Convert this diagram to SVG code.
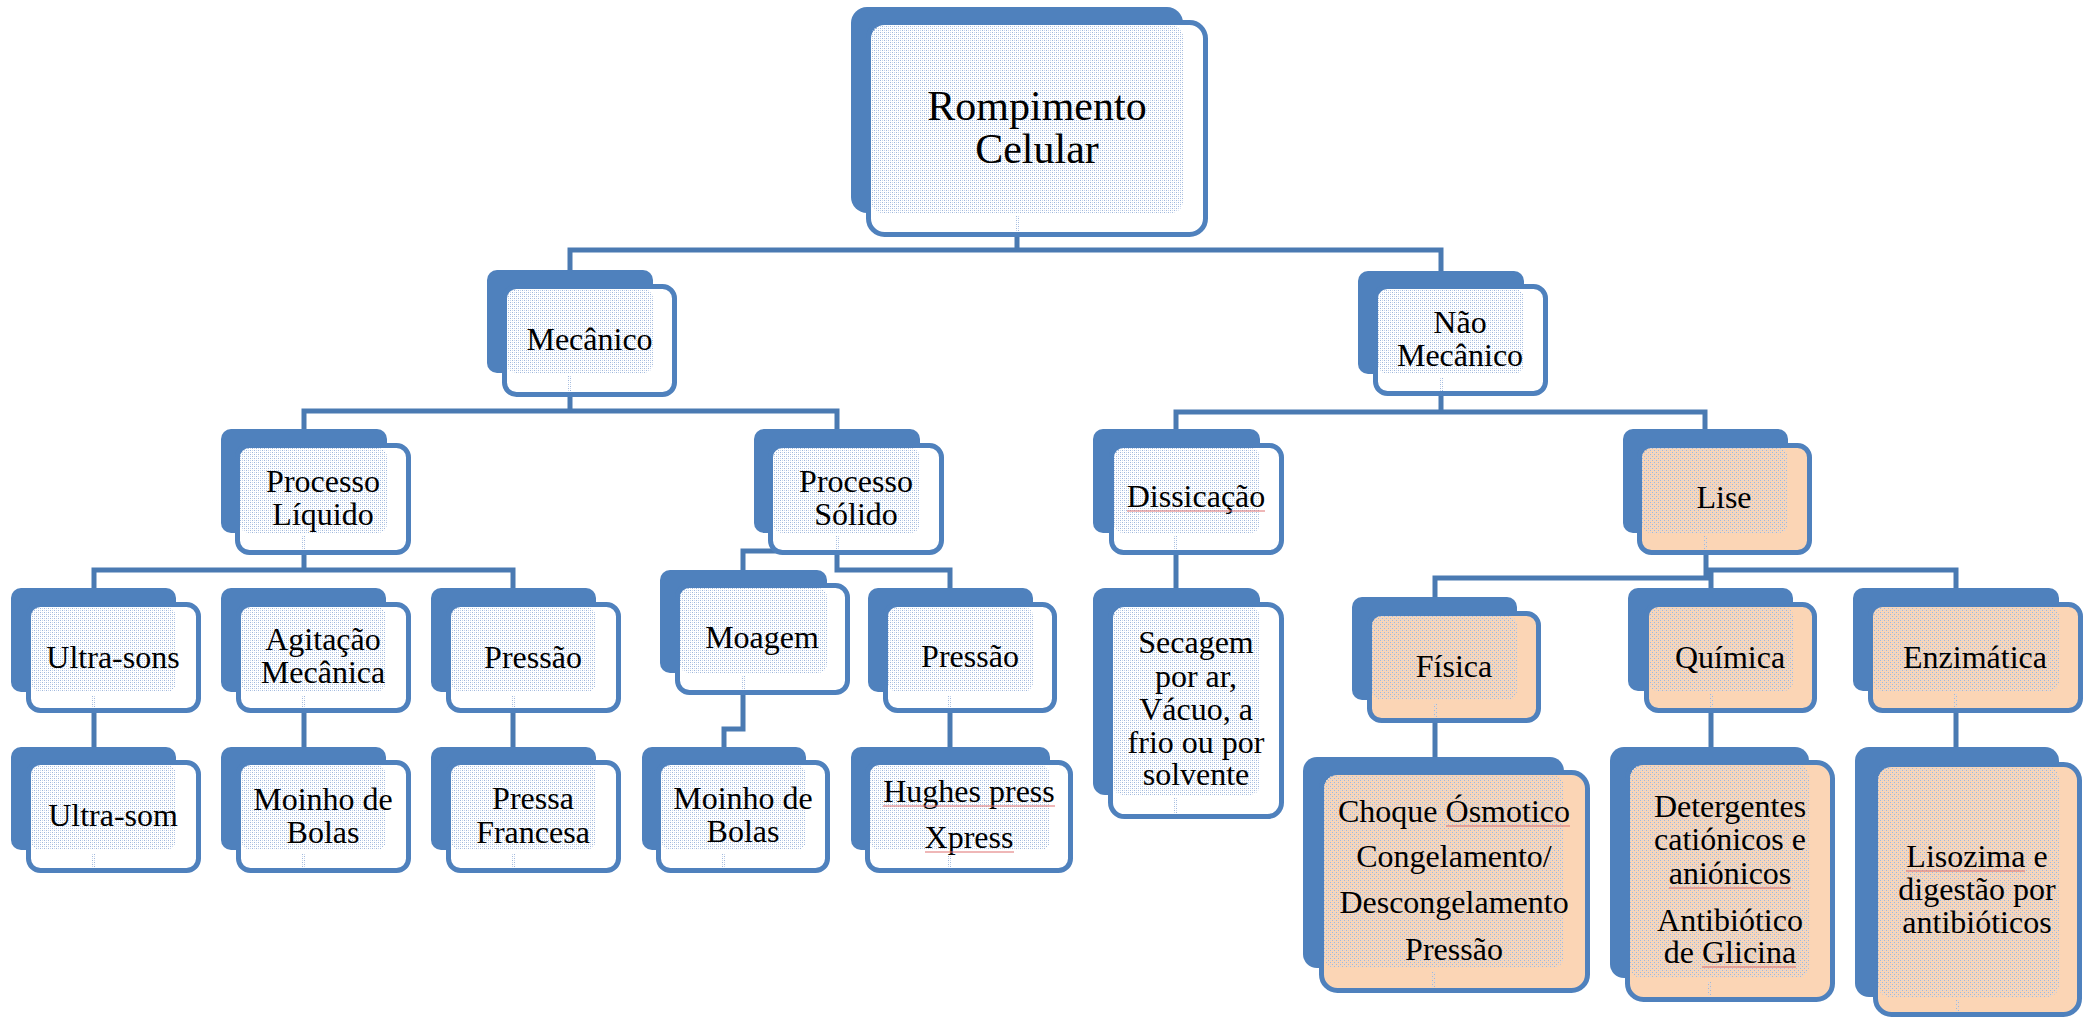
<svg xmlns="http://www.w3.org/2000/svg" width="2089" height="1019" viewBox="0 0 2089 1019">
<defs>
<pattern id="dots" width="4" height="4" patternUnits="userSpaceOnUse">
<rect x="0" y="0" width="1" height="1" fill="#9fb7dc"/>
<rect x="2" y="2" width="1" height="1" fill="#9fb7dc"/>
<rect x="2" y="0" width="1" height="1" fill="#c9d7ec"/>
<rect x="0" y="2" width="1" height="1" fill="#c9d7ec"/>
</pattern>
<style>
.back{fill:#4F81BD}
.front{fill:#ffffff;stroke:#4F81BD;stroke-width:5}
.peach .front{fill:#FBD5B5}
.pat{fill:url(#dots)}
.t{font-family:"Liberation Serif","Times New Roman",serif;font-size:32px;text-anchor:middle;fill:#000}
.big{font-size:42px}
.conn{fill:none;stroke:#4A7AB2;stroke-width:5}
.spell{stroke:#e07070;stroke-width:1.2;fill:none}
</style>
</defs>
<rect width="2089" height="1019" fill="#ffffff"/>
<g id="connectors" class="conn">
<path d="M1017,237 V250 M570,270 V250 H1441 V271"/>
<path d="M570,397 V411 M304,429 V411 H837 V429"/>
<path d="M1441,396 V412 M1176,429 V412 H1705 V429"/>
<path d="M304,555 V570 M94,588 V570 H513 V588"/>
<path d="M837,555 V570 H950 V588 M837,551 H743 V570"/>
<path d="M1176,555 V588"/>
<path d="M1706,555 V578 H1435 V597 M1711,588 V570 H1956 V588"/>
<path d="M94,713 V747 M304,713 V747 M513,713 V747"/>
<path d="M743,695 V729 H724 V747"/>
<path d="M950,713 V747"/>
<path d="M1435,723 V757 M1711,713 V747 M1956,713 V747"/>
</g>
<g id="root"><rect class="back" x="851" y="7" width="332" height="206" rx="16"/><rect class="front" x="868.5" y="22.5" width="337" height="212" rx="16"/><rect class="pat" x="871" y="25" width="312" height="188" rx="12"/><rect class="pat" x="1015" y="216" width="4" height="15"/><text class="t big" x="1037" y="120">Rompimento</text><text class="t big" x="1037" y="163">Celular</text></g>
<g id="mecanico"><rect class="back" x="487" y="270" width="166" height="103" rx="10"/><rect class="front" x="504.5" y="286.5" width="170" height="108" rx="12"/><rect class="pat" x="507" y="289" width="146" height="84" rx="9"/><rect class="pat" x="568" y="376" width="4" height="16"/><text class="t" x="589.5" y="350">Mecânico</text></g>
<g id="nao-mecanico"><rect class="back" x="1358" y="271" width="166" height="103" rx="10"/><rect class="front" x="1375.5" y="286.5" width="170" height="107" rx="12"/><rect class="pat" x="1378" y="289" width="146" height="85" rx="9"/><rect class="pat" x="1439" y="377" width="4" height="14"/><text class="t" x="1460" y="333">Não</text><text class="t" x="1460" y="366">Mecânico</text></g>
<g id="processo-liquido"><rect class="back" x="221" y="429" width="166" height="104" rx="10"/><rect class="front" x="237.5" y="445.5" width="171" height="107" rx="12"/><rect class="pat" x="240" y="448" width="147" height="85" rx="9"/><rect class="pat" x="302" y="536" width="4" height="14"/><text class="t" x="323" y="492">Processo</text><text class="t" x="323" y="525">Líquido</text></g>
<g id="processo-solido"><rect class="back" x="754" y="429" width="166" height="104" rx="10"/><rect class="front" x="770.5" y="445.5" width="171" height="107" rx="12"/><rect class="pat" x="773" y="448" width="147" height="85" rx="9"/><rect class="pat" x="835" y="536" width="4" height="14"/><text class="t" x="856" y="492">Processo</text><text class="t" x="856" y="525">Sólido</text></g>
<g id="dissicacao"><rect class="back" x="1093" y="429" width="167" height="104" rx="10"/><rect class="front" x="1111.5" y="445.5" width="170" height="107" rx="12"/><rect class="pat" x="1114" y="448" width="146" height="85" rx="9"/><rect class="pat" x="1174" y="536" width="4" height="14"/><text class="t" x="1196" y="507">Dissicação</text><line class="spell" x1="1127" y1="511" x2="1265" y2="511"/></g>
<g id="lise" class="peach"><rect class="back" x="1623" y="429" width="165" height="104" rx="10"/><rect class="front" x="1639.5" y="445.5" width="170" height="107" rx="12"/><rect class="pat" x="1642" y="448" width="146" height="85" rx="9"/><rect class="pat" x="1704" y="536" width="4" height="14"/><text class="t" x="1724" y="508">Lise</text></g>
<g id="ultra-sons"><rect class="back" x="11" y="588" width="165" height="104" rx="10"/><rect class="front" x="28.5" y="604.5" width="170" height="106" rx="12"/><rect class="pat" x="31" y="607" width="145" height="85" rx="9"/><rect class="pat" x="92" y="695" width="4" height="13"/><text class="t" x="113" y="668">Ultra-sons</text></g>
<g id="agitacao"><rect class="back" x="221" y="588" width="165" height="104" rx="10"/><rect class="front" x="238.5" y="604.5" width="170" height="106" rx="12"/><rect class="pat" x="241" y="607" width="145" height="85" rx="9"/><rect class="pat" x="302" y="695" width="4" height="13"/><text class="t" x="323" y="650">Agitação</text><text class="t" x="323" y="683">Mecânica</text></g>
<g id="pressao-liquido"><rect class="back" x="431" y="588" width="165" height="104" rx="10"/><rect class="front" x="448.5" y="604.5" width="170" height="106" rx="12"/><rect class="pat" x="451" y="607" width="145" height="85" rx="9"/><rect class="pat" x="511" y="695" width="4" height="13"/><text class="t" x="533" y="668">Pressão</text></g>
<g id="moagem"><rect class="back" x="660" y="570" width="167" height="103" rx="10"/><rect class="front" x="677.5" y="585.5" width="170" height="107" rx="12"/><rect class="pat" x="680" y="588" width="147" height="85" rx="9"/><rect class="pat" x="741" y="676" width="4" height="14"/><text class="t" x="762" y="648">Moagem</text></g>
<g id="pressao-solido"><rect class="back" x="868" y="588" width="165" height="104" rx="10"/><rect class="front" x="885.5" y="604.5" width="169" height="106" rx="12"/><rect class="pat" x="888" y="607" width="145" height="85" rx="9"/><rect class="pat" x="948" y="695" width="4" height="13"/><text class="t" x="970" y="667">Pressão</text></g>
<g id="secagem"><rect class="back" x="1093" y="588" width="167" height="207" rx="12"/><rect class="front" x="1110.5" y="604.5" width="171" height="212" rx="14"/><rect class="pat" x="1113" y="607" width="147" height="188" rx="10"/><rect class="pat" x="1174" y="798" width="4" height="16"/><text class="t" x="1196" y="653">Secagem</text><text class="t" x="1196" y="687">por ar,</text><text class="t" x="1196" y="720">Vácuo, a</text><text class="t" x="1196" y="753">frio ou por</text><text class="t" x="1196" y="785">solvente</text></g>
<g id="fisica" class="peach"><rect class="back" x="1352" y="597" width="165" height="103" rx="10"/><rect class="front" x="1369.5" y="613.5" width="169" height="107" rx="12"/><rect class="pat" x="1372" y="616" width="145" height="84" rx="9"/><rect class="pat" x="1433" y="703" width="4" height="14"/><text class="t" x="1454" y="677">Física</text></g>
<g id="quimica" class="peach"><rect class="back" x="1628" y="588" width="165" height="103" rx="10"/><rect class="front" x="1646.5" y="604.5" width="168" height="106" rx="12"/><rect class="pat" x="1649" y="607" width="144" height="84" rx="9"/><rect class="pat" x="1709" y="694" width="4" height="14"/><text class="t" x="1730" y="668">Química</text></g>
<g id="enzimatica" class="peach"><rect class="back" x="1853" y="588" width="206" height="103" rx="10"/><rect class="front" x="1870.5" y="604.5" width="210" height="106" rx="12"/><rect class="pat" x="1873" y="607" width="186" height="84" rx="9"/><rect class="pat" x="1954" y="694" width="4" height="14"/><text class="t" x="1975" y="668">Enzimática</text></g>
<g id="ultra-som"><rect class="back" x="11" y="747" width="165" height="103" rx="10"/><rect class="front" x="28.5" y="762.5" width="170" height="108" rx="12"/><rect class="pat" x="31" y="765" width="145" height="85" rx="9"/><rect class="pat" x="92" y="853" width="4" height="15"/><text class="t" x="113" y="826">Ultra-som</text></g>
<g id="moinho-bolas-1"><rect class="back" x="221" y="747" width="165" height="103" rx="10"/><rect class="front" x="238.5" y="762.5" width="170" height="108" rx="12"/><rect class="pat" x="241" y="765" width="145" height="85" rx="9"/><rect class="pat" x="302" y="853" width="4" height="15"/><text class="t" x="323" y="810">Moinho de</text><text class="t" x="323" y="843">Bolas</text></g>
<g id="pressa-francesa"><rect class="back" x="431" y="747" width="165" height="103" rx="10"/><rect class="front" x="448.5" y="762.5" width="170" height="108" rx="12"/><rect class="pat" x="451" y="765" width="145" height="85" rx="9"/><rect class="pat" x="511" y="853" width="4" height="15"/><text class="t" x="533" y="809">Pressa</text><text class="t" x="533" y="843">Francesa</text></g>
<g id="moinho-bolas-2"><rect class="back" x="642" y="747" width="164" height="103" rx="10"/><rect class="front" x="658.5" y="762.5" width="169" height="108" rx="12"/><rect class="pat" x="661" y="765" width="145" height="85" rx="9"/><rect class="pat" x="722" y="853" width="4" height="15"/><text class="t" x="743" y="809">Moinho de</text><text class="t" x="743" y="842">Bolas</text></g>
<g id="hughes"><rect class="back" x="851" y="747" width="199" height="103" rx="10"/><rect class="front" x="867.5" y="762.5" width="203" height="108" rx="12"/><rect class="pat" x="870" y="765" width="180" height="85" rx="9"/><rect class="pat" x="948" y="853" width="4" height="15"/><text class="t" x="969" y="802">Hughes press</text><text class="t" x="969" y="848">Xpress</text><line class="spell" x1="883" y1="806" x2="1055" y2="806"/><line class="spell" x1="925" y1="852" x2="1014" y2="852"/></g>
<g id="choque" class="peach"><rect class="back" x="1303" y="757" width="261" height="211" rx="14"/><rect class="front" x="1321.5" y="772.5" width="266" height="218" rx="16"/><rect class="pat" x="1324" y="775" width="240" height="193" rx="12"/><rect class="pat" x="1431" y="971" width="4" height="16"/><text class="t" x="1454" y="822">Choque Ósmotico</text><text class="t" x="1454" y="867">Congelamento/</text><text class="t" x="1454" y="913">Descongelamento</text><text class="t" x="1454" y="960">Pressão</text><line class="spell" x1="1446" y1="826" x2="1570" y2="826"/></g>
<g id="detergentes" class="peach"><rect class="back" x="1610" y="747" width="199" height="231" rx="14"/><rect class="front" x="1627.5" y="762.5" width="205" height="237" rx="16"/><rect class="pat" x="1630" y="765" width="179" height="213" rx="12"/><rect class="pat" x="1707" y="981" width="4" height="15"/><text class="t" x="1730" y="817">Detergentes</text><text class="t" x="1730" y="850">catiónicos e</text><text class="t" x="1730" y="884">aniónicos</text><text class="t" x="1730" y="931">Antibiótico</text><text class="t" x="1730" y="963">de Glicina</text><line class="spell" x1="1669" y1="888" x2="1791" y2="888"/><line class="spell" x1="1702" y1="967" x2="1796" y2="967"/></g>
<g id="lisozima" class="peach"><rect class="back" x="1855" y="747" width="204" height="250" rx="14"/><rect class="front" x="1875.5" y="764.5" width="204" height="250" rx="16"/><rect class="pat" x="1878" y="767" width="181" height="230" rx="12"/><rect class="pat" x="1955" y="1000" width="4" height="12"/><text class="t" x="1977" y="867">Lisozima e</text><text class="t" x="1977" y="900">digestão por</text><text class="t" x="1977" y="933">antibióticos</text><line class="spell" x1="1906" y1="871" x2="2025" y2="871"/></g>
</svg>
